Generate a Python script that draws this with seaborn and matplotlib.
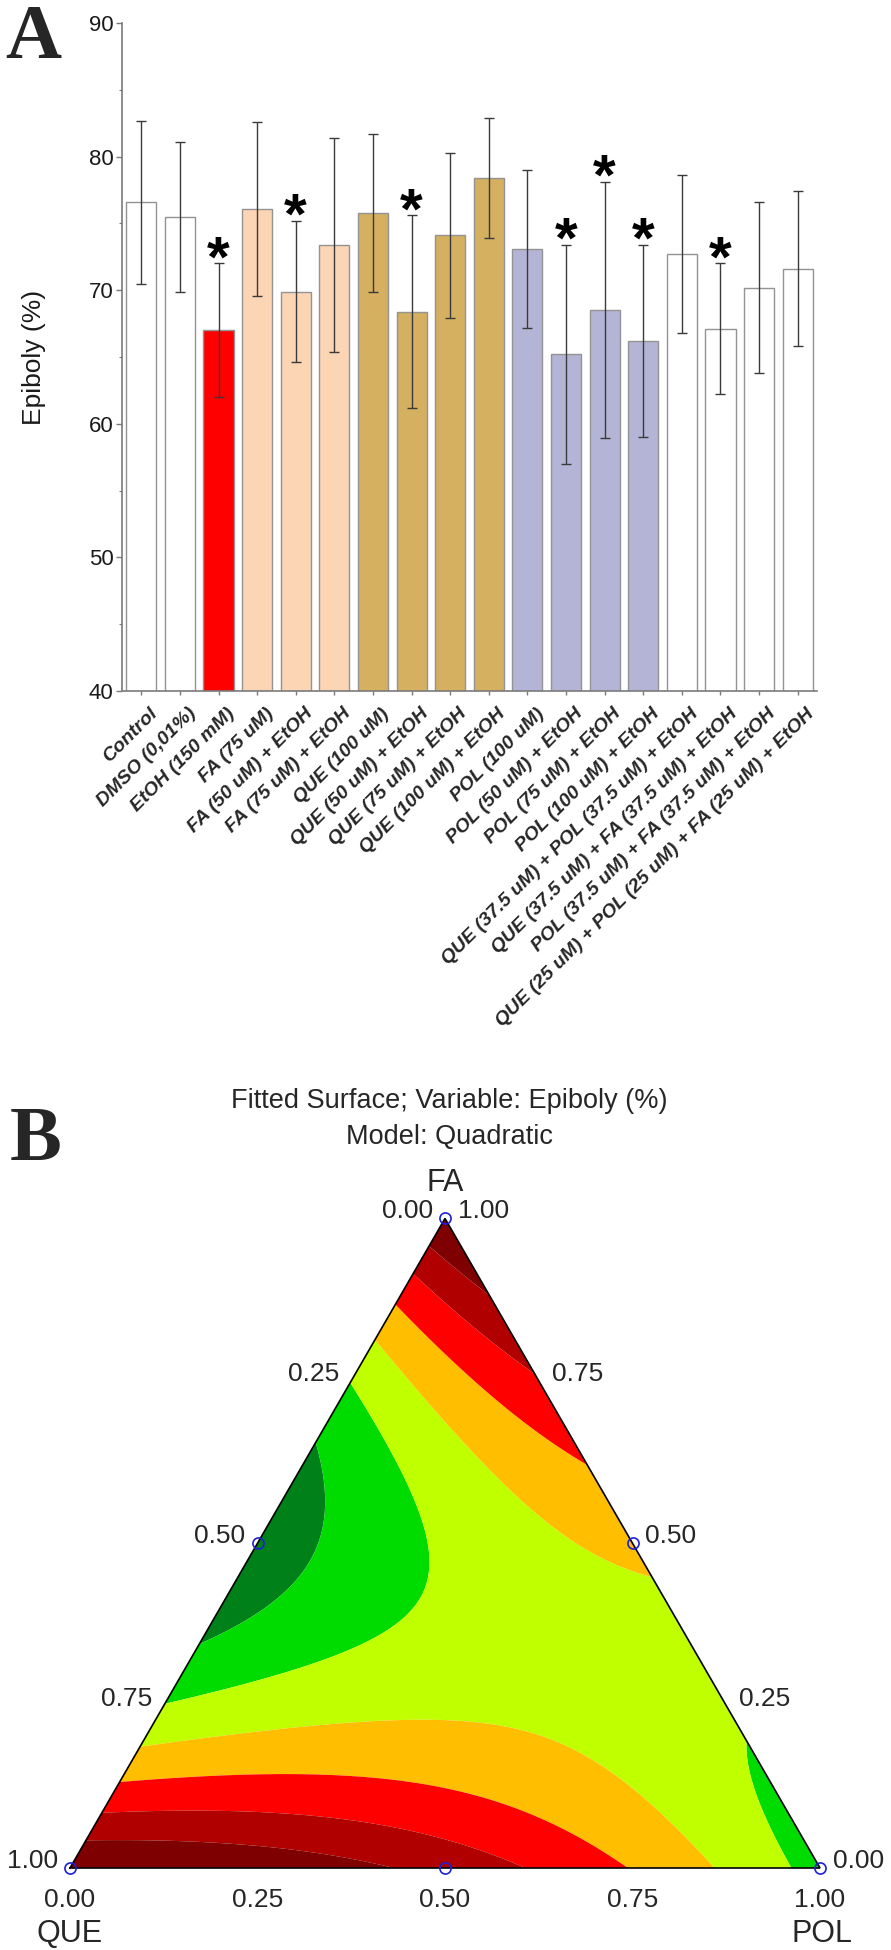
"""
Figura: (A) epibolia por tratamiento y (B) superficie ajustada de mezcla QUE/POL/FA.
"""

import matplotlib

matplotlib.use("Agg")
import matplotlib.pyplot as plt
import matplotlib.tri as mtri
import numpy as np
import pandas as pd
import seaborn as sns
from matplotlib.ticker import MultipleLocator
from matplotlib.transforms import ScaledTranslation

# ============================================================================
# DATOS
# ============================================================================

# Panel A: epibolia (%) media y desviacion estandar por tratamiento
treatments = [
    "Control",
    "DMSO (0,01%)",
    "EtOH (150 mM)",
    "FA (75 uM)",
    "FA (50 uM) + EtOH",
    "FA (75 uM) + EtOH",
    "QUE (100 uM)",
    "QUE (50 uM) + EtOH",
    "QUE (75 uM) + EtOH",
    "QUE (100 uM) + EtOH",
    "POL (100 uM)",
    "POL (50 uM) + EtOH",
    "POL (75 uM) + EtOH",
    "POL (100 uM) + EtOH",
    "QUE (37.5 uM) + POL (37.5 uM) + EtOH",
    "QUE (37.5 uM) + FA (37.5 uM) + EtOH",
    "POL (37.5 uM) + FA (37.5 uM) + EtOH",
    "QUE (25 uM) + POL (25 uM) + FA (25 uM) + EtOH",
]
epiboly_mean = [76.6, 75.5, 67.0, 76.1, 69.9, 73.4, 75.8, 68.4, 74.1, 78.4,
                73.1, 65.2, 68.5, 66.2, 72.7, 67.1, 70.2, 71.6]
epiboly_sd = [6.1, 5.6, 5.0, 6.5, 5.3, 8.0, 5.9, 7.2, 6.2, 4.5,
              5.9, 8.2, 9.6, 7.2, 5.9, 4.9, 6.4, 5.8]
significant = [False, False, True, False, True, False, False, True, False, False,
               False, True, True, True, False, True, False, False]
groups = (["control"] * 2 + ["etoh"] + ["fa"] * 3 + ["que"] * 4
          + ["pol"] * 4 + ["mix"] * 4)

group_colors = {
    "control": "#FFFFFF",
    "etoh": "#FF0000",
    "fa": "#FCD5B4",
    "que": "#D4B060",
    "pol": "#B4B4D6",
    "mix": "#FFFFFF",
}

# Panel B: modelo cuadratico de Scheffe (QUE, POL, FA)
components = ["QUE", "POL", "FA"]
coef_linear = [76.2, 65.2, 76.2]      # QUE, POL, FA
coef_pairs = [10.4, -54.0, -8.6]      # QUE*POL, QUE*FA, POL*FA
contour_levels = [50, 64, 66, 68, 70, 72, 74, 90]
contour_colors = ["#008018", "#00DC00", "#C0FF00", "#FFBF00",
                  "#FF0000", "#B00000", "#7F0000"]
design_points = [(1, 0, 0), (0, 1, 0), (0, 0, 1),
                 (0.5, 0.5, 0), (0.5, 0, 0.5), (0, 0.5, 0.5)]
edge_ticks = [0.0, 0.25, 0.5, 0.75, 1.0]

# ============================================================================
# FIGURA
# ============================================================================

sns.set_style("ticks")
plt.rcParams["font.family"] = ["Liberation Sans", "DejaVu Sans"]

W, H = 891, 1950
fig = plt.figure(figsize=(W / 100, H / 100), dpi=100)

# ----------------------------------------------------------------------------
# Panel A: barras
# ----------------------------------------------------------------------------
ax = fig.add_axes([122 / W, 1 - 691 / H, 695 / W, 668 / H])

df = pd.DataFrame({"treatment": treatments, "epiboly": epiboly_mean, "group": groups})
sns.barplot(
    data=df, x="treatment", y="epiboly", hue="group", order=treatments,
    palette=group_colors, dodge=False, legend=False, saturation=1,
    width=0.78, edgecolor="#939393", linewidth=1.0, errorbar=None, ax=ax,
)
xpos = np.arange(len(treatments))
ax.errorbar(xpos, epiboly_mean, yerr=epiboly_sd, fmt="none", ecolor="#3a3a3a",
            elinewidth=1.0, capsize=3.5, capthick=1.0, zorder=3)

for i, (m, s, sig) in enumerate(zip(epiboly_mean, epiboly_sd, significant)):
    if sig:
        ax.annotate("*", xy=(i, m + s), xytext=(0, -13), textcoords="offset pixels",
                    ha="center", va="baseline", fontsize=42, fontweight="bold",
                    color="black")

ax.set_ylim(40, 90)
ax.set_xlim(-0.5, len(treatments) - 0.5)
ax.yaxis.set_major_locator(MultipleLocator(10))
ax.yaxis.set_minor_locator(MultipleLocator(5))
sns.despine(ax=ax)
for sp in ("left", "bottom"):
    ax.spines[sp].set_color("#7a7a7a")
    ax.spines[sp].set_linewidth(1.2)
ax.tick_params(axis="y", which="major", length=4, width=1, color="#7a7a7a",
               labelsize=16, pad=2, labelcolor="#1a1a1a")
ax.tick_params(axis="y", which="minor", length=2.5, width=0.8, color="#7a7a7a")
ax.tick_params(axis="x", length=3, width=1, color="#7a7a7a", pad=2)

ax.set_xticks(xpos)
ax.set_xticklabels(treatments, rotation=45, ha="right", va="top",
                   rotation_mode="anchor", fontsize=14, fontweight="bold",
                   fontstyle="italic")
shift = ScaledTranslation(0.08, -0.07, fig.dpi_scale_trans)
for lbl in ax.get_xticklabels():
    lbl.set_transform(lbl.get_transform() + shift)
ax.set_xlabel("")
ax.set_ylabel("Epiboly (%)", fontsize=19, color="#1a1a1a")
ax.yaxis.set_label_coords(-0.109, 0.5)

serif = ["Liberation Serif", "DejaVu Serif"]
fig.text(5 / W, 1 - 58 / H, "A", family=serif, fontweight="bold", fontsize=56,
         va="baseline", ha="left")

# ----------------------------------------------------------------------------
# Panel B: superficie ternaria
# ----------------------------------------------------------------------------
top_px = 1040
axb = fig.add_axes([0, 0, 1, (H - top_px) / H])
scale = 750.0
axb.set_xlim(-70 / scale, (W - 70) / scale)
axb.set_ylim(-(H - 1868) / scale, (1868 - top_px) / scale)
axb.axis("off")

h3 = np.sqrt(3) / 2


def to_xy(que, pol, fa):
    return pol + 0.5 * fa, h3 * fa


def model(que, pol, fa):
    b1, b2, b3 = coef_linear
    b12, b13, b23 = coef_pairs
    return (b1 * que + b2 * pol + b3 * fa
            + b12 * que * pol + b13 * que * fa + b23 * pol * fa)


n = 160
pol_g, fa_g = [], []
for i in range(n + 1):
    for j in range(n + 1 - i):
        pol_g.append(i / n)
        fa_g.append(j / n)
pol_g = np.array(pol_g)
fa_g = np.array(fa_g)
que_g = 1 - pol_g - fa_g
gx, gy = to_xy(que_g, pol_g, fa_g)
tri = mtri.Triangulation(gx, gy)
axb.tricontourf(tri, model(que_g, pol_g, fa_g), levels=contour_levels,
                colors=contour_colors, antialiased=True)

bx, by = to_xy(np.array([1, 0, 0, 1]), np.array([0, 1, 0, 0]), np.array([0, 0, 1, 0]))
axb.plot(bx, by, color="black", lw=1.2, solid_joinstyle="miter")

dq, dp, df_ = zip(*design_points)
px, py = to_xy(np.array(dq), np.array(dp), np.array(df_))
axb.plot(px, py, "o", ms=8, mfc="none", mec="#1f1fd6", mew=1.2, clip_on=False)

tick_fs = 19
for t in edge_ticks:
    # izquierda: fraccion de QUE
    x, y = to_xy(t, 0, 1 - t)
    axb.annotate(f"{t:.2f}", xy=(x, y), xytext=(-12, 0), textcoords="offset pixels",
                 ha="right", va="baseline", fontsize=tick_fs)
    # derecha: fraccion de FA
    x, y = to_xy(0, 1 - t, t)
    axb.annotate(f"{t:.2f}", xy=(x, y), xytext=(13, 0), textcoords="offset pixels",
                 ha="left", va="baseline", fontsize=tick_fs)
    # abajo: fraccion de POL
    x, y = to_xy(1 - t, t, 0)
    axb.annotate(f"{t:.2f}", xy=(x, y), xytext=(0, -39), textcoords="offset pixels",
                 ha="center", va="baseline", fontsize=tick_fs)

name_fs = 22
x, y = to_xy(0, 0, 1)
axb.annotate(components[2], xy=(x, y), xytext=(0, 27), textcoords="offset pixels",
             ha="center", va="baseline", fontsize=name_fs)
x, y = to_xy(1, 0, 0)
axb.annotate(components[0], xy=(x, y), xytext=(0, -74), textcoords="offset pixels",
             ha="center", va="baseline", fontsize=name_fs)
x, y = to_xy(0, 1, 0)
axb.annotate(components[1], xy=(x, y), xytext=(2, -74), textcoords="offset pixels",
             ha="center", va="baseline", fontsize=name_fs)

fig.text(449 / W, 1 - 1108 / H, "Fitted Surface; Variable: Epiboly (%)",
         ha="center", va="baseline", fontsize=19.5)
fig.text(449 / W, 1 - 1144 / H, "Model: Quadratic",
         ha="center", va="baseline", fontsize=19.5)
fig.text(10 / W, 1 - 1160 / H, "B", family=serif, fontweight="bold", fontsize=56,
         va="baseline", ha="left")

fig.savefig("out.png", dpi=100)
plt.close(fig)
